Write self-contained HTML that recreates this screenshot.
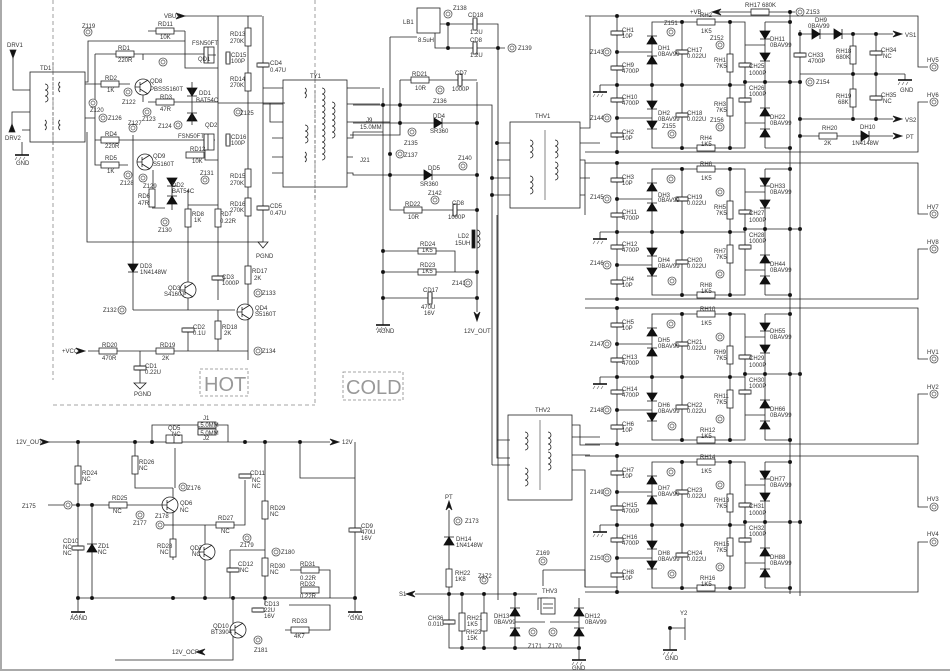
<!DOCTYPE html>
<html><head><meta charset="utf-8"><style>
html,body{margin:0;padding:0;background:#fff;}
svg{display:block;}
text{font-family:"Liberation Sans",sans-serif;font-size:6px;fill:#333;}
.big{font-size:20px;fill:#999;}
</style></head><body>
<svg width="950" height="672" viewBox="0 0 950 672" xmlns="http://www.w3.org/2000/svg">
<defs>
<g id="rh"><rect x="-9" y="-3" width="18" height="6" fill="#fff" stroke="#222" stroke-width="0.8"/></g>
<g id="rv"><rect x="-3" y="-9" width="6" height="18" fill="#fff" stroke="#222" stroke-width="0.8"/></g>
<g id="cv"><rect x="-6" y="-2" width="12" height="4" fill="#fff"/><path d="M-5-2H5M-5 2H5" stroke="#222" stroke-width="1"/></g>
<g id="ch"><rect x="-2" y="-6" width="4" height="12" fill="#fff"/><path d="M-2-5V5M2-5V5" stroke="#222" stroke-width="1"/></g>
<g id="du"><path d="M-5 4H5L0-4Z M-5-4H5" fill="#111" stroke="#111" stroke-width="0.8"/></g>
<g id="dd"><path d="M-5-4H5L0 4Z M-5 4H5" fill="#111" stroke="#111" stroke-width="0.8"/></g>
<g id="dr"><path d="M-4-5V5L4 0Z M4-5V5" fill="#111" stroke="#111" stroke-width="0.8"/></g>
<g id="tp"><circle r="4" fill="#fff" stroke="#555" stroke-width="0.8"/><circle r="2" fill="none" stroke="#555" stroke-width="0.7"/></g>
<circle id="dt" r="1.6" fill="#111"/>
<g id="gnd"><path d="M-7 0H7" stroke="#111" stroke-width="1.6"/><path d="M-5 2L-7 5M-1 2L-3 5M3 2L1 5" stroke="#555" stroke-width="0.6"/></g>
<g id="arr"><path d="M0-3L9 0L0 3L3 0Z" fill="#111"/></g>
<g id="q"><circle r="8" fill="#fff" stroke="#222" stroke-width="0.8"/><path d="M-3-5V5M-8 0H-3M-3-2L5-7M-3 2L5 7" stroke="#222" stroke-width="0.8" fill="none"/></g>
<g id="coil"><path d="M0 0a3 3 0 0 1 0 6a3 3 0 0 1 0 6a3 3 0 0 1 0 6" fill="none" stroke="#222" stroke-width="0.8"/></g>
<g id="coil2"><path d="M0 0a3 3 0 0 1 0 5a3 3 0 0 1 0 5" fill="none" stroke="#222" stroke-width="0.8"/></g>
<g id="blk" stroke="#222" stroke-width="0.8" fill="none">
<path d="M585 16H918V67H928M928 102H918V152H585"/>
<path d="M617 16V152M600 85H745M600 85V92M652 22H745V148H652ZM682 22V148M730 22V148M745 22V148M617 52H652M617 118H652M765 22V148M745 45H765M745 123H765M745 82H800M765 22H790M765 148H790"/>
<use href="#cv" x="617" y="33"/><use href="#cv" x="617" y="68"/><use href="#cv" x="617" y="100"/><use href="#cv" x="617" y="135"/>
<use href="#tp" x="607" y="52"/><use href="#tp" x="607" y="118"/>
<use href="#gnd" x="600" y="92"/>
<use href="#du" x="652" y="40"/><use href="#du" x="652" y="60"/><use href="#dd" x="652" y="105"/><use href="#dd" x="652" y="125"/>
<use href="#cv" x="682" y="52"/><use href="#cv" x="682" y="115"/>
<use href="#rh" x="706" y="22"/><use href="#rh" x="706" y="148"/>
<use href="#rv" x="730" y="63"/><use href="#rv" x="730" y="107"/>
<use href="#cv" x="745" y="65"/><use href="#cv" x="745" y="100"/>
<use href="#dd" x="765" y="35"/><use href="#dd" x="765" y="57"/><use href="#du" x="765" y="112"/><use href="#du" x="765" y="133"/>
<use href="#tp" x="671" y="32"/><use href="#tp" x="720" y="45"/><use href="#tp" x="720" y="127"/><use href="#tp" x="672" y="134"/>
<use href="#dt" x="617" y="16"/><use href="#dt" x="617" y="52"/><use href="#dt" x="617" y="85"/><use href="#dt" x="617" y="118"/><use href="#dt" x="617" y="152"/>
<use href="#dt" x="652" y="85"/><use href="#dt" x="682" y="85"/><use href="#dt" x="730" y="85"/><use href="#dt" x="682" y="22"/><use href="#dt" x="730" y="22"/><use href="#dt" x="730" y="148"/><use href="#dt" x="682" y="148"/><use href="#dt" x="745" y="82"/><use href="#dt" x="765" y="82"/><use href="#dt" x="790" y="82"/><use href="#dt" x="800" y="82"/><use href="#dt" x="790" y="148"/><use href="#dt" x="790" y="22"/>
<use href="#tp" x="934" y="67"/><use href="#tp" x="934" y="102"/>
</g>
</defs>
<rect width="950" height="672" fill="#fff"/>
<path d="M1 0V670H950" stroke="#aaa" stroke-width="2" fill="none"/>

<use href="#blk"/>
<use href="#blk" y="147"/>
<use href="#blk" y="292"/>
<use href="#blk" y="440"/>
<path d="M790 10V594M800 30V596" stroke="#222" stroke-width="0.8"/>
<g>
<text x="622" y="32">CH1</text><text x="622" y="38">10P</text><text x="622" y="67">CH9</text><text x="622" y="73">4700P</text><text x="622" y="99">CH10</text><text x="622" y="105">4700P</text><text x="622" y="134">CH2</text><text x="622" y="140">10P</text>
<text x="590" y="54">Z143</text><text x="590" y="120">Z144</text><text x="658" y="50">DH1</text><text x="658" y="56">0BAV99</text><text x="658" y="115">DH2</text><text x="658" y="121">0BAV99</text>
<text x="687" y="52">CH17</text><text x="687" y="58">0.022U</text><text x="687" y="115">CH18</text><text x="687" y="121">0.022U</text>
<text x="700" y="17">RH2</text><text x="701" y="33">1K5</text><text x="714" y="62">RH1</text><text x="716" y="68">7K5</text><text x="714" y="106">RH3</text><text x="716" y="112">7K5</text><text x="700" y="140">RH4</text><text x="701" y="146">1K5</text>
<text x="749" y="68">CH25</text><text x="749" y="75">1000P</text><text x="749" y="90">CH26</text><text x="749" y="96">1000P</text><text x="770" y="41">DH11</text><text x="770" y="47">0BAV99</text><text x="770" y="119">DH22</text><text x="770" y="125">0BAV99</text>
<text x="664" y="25">Z151</text><text x="710" y="40">Z152</text><text x="710" y="122">Z156</text><text x="662" y="128">Z155</text>
<text x="622" y="179">CH3</text><text x="622" y="185">10P</text><text x="622" y="214">CH11</text><text x="622" y="220">4700P</text><text x="622" y="246">CH12</text><text x="622" y="252">4700P</text><text x="622" y="281">CH4</text><text x="622" y="287">10P</text>
<text x="590" y="199">Z145</text><text x="590" y="265">Z146</text><text x="658" y="197">DH3</text><text x="658" y="202">0BAV99</text><text x="658" y="262">DH4</text><text x="658" y="268">0BAV99</text>
<text x="687" y="199">CH19</text><text x="687" y="205">0.022U</text><text x="687" y="262">CH20</text><text x="687" y="268">0.022U</text>
<text x="700" y="166">RH6</text><text x="701" y="180">1K5</text><text x="714" y="209">RH5</text><text x="716" y="215">7K5</text><text x="714" y="253">RH7</text><text x="716" y="259">7K5</text><text x="700" y="287">RH8</text><text x="701" y="293">1K5</text>
<text x="749" y="215">CH27</text><text x="749" y="222">1000P</text><text x="749" y="237">CH28</text><text x="749" y="243">1000P</text><text x="770" y="188">DH33</text><text x="770" y="194">0BAV99</text><text x="770" y="266">DH44</text><text x="770" y="272">0BAV99</text>
<text x="622" y="324">CH5</text><text x="622" y="330">10P</text><text x="622" y="359">CH13</text><text x="622" y="365">4700P</text><text x="622" y="391">CH14</text><text x="622" y="397">4700P</text><text x="622" y="426">CH6</text><text x="622" y="432">10P</text>
<text x="590" y="346">Z147</text><text x="590" y="412">Z148</text><text x="658" y="342">DH5</text><text x="658" y="348">0BAV99</text><text x="658" y="407">DH6</text><text x="658" y="413">0BAV99</text>
<text x="687" y="344">CH21</text><text x="687" y="350">0.022U</text><text x="687" y="407">CH22</text><text x="687" y="413">0.022U</text>
<text x="700" y="311">RH10</text><text x="701" y="325">1K5</text><text x="714" y="354">RH9</text><text x="716" y="360">7K5</text><text x="714" y="398">RH11</text><text x="716" y="404">7K5</text><text x="700" y="432">RH12</text><text x="701" y="438">1K5</text>
<text x="749" y="360">CH29</text><text x="749" y="367">1000P</text><text x="749" y="382">CH30</text><text x="749" y="388">1000P</text><text x="770" y="333">DH55</text><text x="770" y="339">0BAV99</text><text x="770" y="411">DH66</text><text x="770" y="417">0BAV99</text>
<text x="622" y="472">CH7</text><text x="622" y="478">10P</text><text x="622" y="507">CH15</text><text x="622" y="513">4700P</text><text x="622" y="539">CH16</text><text x="622" y="545">4700P</text><text x="622" y="574">CH8</text><text x="622" y="580">10P</text>
<text x="590" y="494">Z149</text><text x="590" y="560">Z150</text><text x="658" y="490">DH7</text><text x="658" y="496">0BAV99</text><text x="658" y="555">DH8</text><text x="658" y="561">0BAV99</text>
<text x="687" y="492">CH23</text><text x="687" y="498">0.022U</text><text x="687" y="555">CH24</text><text x="687" y="561">0.022U</text>
<text x="700" y="459">RH14</text><text x="701" y="473">1K5</text><text x="714" y="502">RH13</text><text x="716" y="508">7K5</text><text x="714" y="546">RH15</text><text x="716" y="552">7K5</text><text x="700" y="580">RH16</text><text x="701" y="586">1K5</text>
<text x="749" y="508">CH31</text><text x="749" y="515">1000P</text><text x="749" y="530">CH32</text><text x="749" y="536">1000P</text><text x="770" y="481">DH77</text><text x="770" y="487">0BAV99</text><text x="770" y="559">DH88</text><text x="770" y="565">0BAV99</text>
<text x="927" y="62">HV5</text><text x="927" y="97">HV6</text><text x="927" y="209">HV7</text><text x="927" y="244">HV8</text><text x="927" y="354">HV1</text><text x="927" y="389">HV2</text><text x="927" y="501">HV3</text><text x="927" y="536">HV4</text>
</g>
<g stroke="#222" stroke-width="0.8" fill="none">
<path d="M712 12H790M790 12H795M800 34H893M800 74H905M800 119H893M800 136H893M853 34V119M876 34V119M905 74V80"/>
<use href="#arr" x="712" y="12" transform="rotate(180 712 12) translate(-9 0)"/>
<use href="#rh" x="760" y="12"/><use href="#tp" x="800" y="12"/>
<use href="#dr" x="816" y="34"/><use href="#dr" x="838" y="34"/>
<use href="#cv" x="800" y="55"/><use href="#rv" x="853" y="55"/><use href="#rv" x="853" y="98"/><use href="#cv" x="876" y="53"/><use href="#cv" x="876" y="98"/>
<use href="#gnd" x="905" y="80"/><use href="#arr" x="893" y="34"/><use href="#arr" x="893" y="119"/><use href="#arr" x="893" y="136"/>
<use href="#rh" x="828" y="136"/><use href="#dr" x="865" y="136"/><use href="#tp" x="810" y="82"/>
<use href="#dt" x="800" y="34"/><use href="#dt" x="853" y="34"/><use href="#dt" x="876" y="34"/><use href="#dt" x="853" y="74"/><use href="#dt" x="876" y="74"/><use href="#dt" x="800" y="119"/><use href="#dt" x="853" y="119"/><use href="#dt" x="876" y="119"/><use href="#dt" x="800" y="136"/><use href="#dt" x="790" y="12"/>
</g>
<text x="690" y="14">+VB</text><text x="745" y="7">RH17 680K</text><text x="806" y="14">Z153</text><text x="815" y="22">DH9</text><text x="808" y="28">0BAV99</text><text x="808" y="57">CH33</text><text x="808" y="63">4700P</text>
<text x="836" y="53">RH18</text><text x="836" y="59">680K</text><text x="836" y="98">RH19</text><text x="838" y="104">68K</text><text x="881" y="52">CH34</text><text x="883" y="58">NC</text><text x="881" y="97">CH35</text><text x="883" y="103">NC</text>
<text x="905" y="37">VS1</text><text x="905" y="122">VS2</text><text x="906" y="139">PT</text><text x="822" y="130">RH20</text><text x="824" y="145">2K</text><text x="860" y="129">DH10</text><text x="852" y="145">1N4148W</text><text x="900" y="92">GND</text><text x="816" y="84">Z154</text>

<path d="M53 0V380M315 0V405M53 405H315" stroke="#888" stroke-width="0.8" stroke-dasharray="4 3" fill="none"/>
<rect x="200" y="369" width="48" height="27" fill="none" stroke="#888" stroke-width="0.8" stroke-dasharray="3 2"/>
<text x="204" y="391" class="big">HOT</text>
<rect x="343" y="372" width="60" height="28" fill="none" stroke="#888" stroke-width="0.8" stroke-dasharray="3 2"/>
<text x="346" y="394" class="big">COLD</text>

<g stroke="#222" stroke-width="0.8" fill="none">
<rect x="30" y="72" width="55" height="70"/>
<path d="M53 62V150" stroke-dasharray="3 2" stroke="#666"/>
<use href="#coil" x="45" y="84"/><use href="#coil2" x="45" y="120"/>
<use href="#coil2" x="60" y="82" transform="translate(120 0) scale(-1 1)"/><use href="#coil2" x="60" y="120" transform="translate(120 0) scale(-1 1)"/>
<path d="M13 58V90H30M12 132V112H30M22 142V155M30 130H22M85 82H88V41H185V31M148 31H185M88 41V82M85 84H130M85 118H95M95 54V165H128M95 140H215M95 54H210M87 132V242H263M148 102H218M143 95V102M143 60V54M185 41V68H218"/>
<path d="M10 50H16L13 58Z M9 132H15L12 124Z" fill="#111"/>
<use href="#gnd" x="22" y="155"/>
<use href="#tp" x="88" y="32"/><use href="#rh" x="165" y="31"/><use href="#rh" x="125" y="54"/><use href="#rh" x="110" y="84"/><use href="#rh" x="165" y="102"/><use href="#rh" x="110" y="140"/><use href="#rh" x="110" y="165"/><use href="#rh" x="195" y="155"/>
<use href="#q" x="143" y="87"/><use href="#q" x="145" y="162"/>
<path d="M185 16H262M218 16V300M248 16V360M263 16V242M218 103H285M208 55V62M210 142V150M153 170V198M152 208H165M172 180V210M188 190V240M188 205H218M133 135V310M133 310H235M188 240V310M248 280V300M218 260V290M188 330V351M218 310V351M88 351H248M140 351V383M205 148V160H218"/>
<use href="#arr" x="176" y="16"/>
<rect x="204" y="47" width="10" height="16" fill="#fff"/><path d="M204 47V63M208 47V63M208 55H216" />
<rect x="204" y="134" width="10" height="16" fill="#fff"/><path d="M204 134V150M208 134V150" />
<use href="#ch" x="228" y="58"/><use href="#ch" x="228" y="140"/>
<use href="#rv" x="248" y="37"/><use href="#rv" x="248" y="82"/><use href="#rv" x="248" y="178"/><use href="#rv" x="248" y="207"/><use href="#rv" x="248" y="275"/>
<use href="#cv" x="263" y="65"/><use href="#cv" x="263" y="208"/>
<use href="#dd" x="192" y="92"/><use href="#du" x="192" y="117"/><path d="M192 82V125"/>
<use href="#dd" x="172" y="182"/><use href="#du" x="172" y="200"/>
<use href="#rv" x="152" y="198"/><use href="#rv" x="188" y="218"/><use href="#rv" x="218" y="218"/>
<use href="#dd" x="133" y="268"/><use href="#cv" x="218" y="278"/>
<use href="#q" x="188" y="290"/><use href="#q" x="245" y="312"/>
<use href="#cv" x="188" y="330"/><use href="#rv" x="218" y="330"/>
<use href="#arr" x="76" y="351"/><use href="#rh" x="108" y="351"/><use href="#rh" x="165" y="351"/><use href="#cv" x="140" y="368"/>
<path d="M134 383H146L140 389Z M258 242H268L263 248Z"/>
<use href="#tp" x="163" y="62"/><use href="#tp" x="128" y="92"/><use href="#tp" x="93" y="103"/><use href="#tp" x="103" y="118"/><use href="#tp" x="147" y="112"/><use href="#tp" x="133" y="128"/><use href="#tp" x="178" y="125"/><use href="#tp" x="238" y="112"/><use href="#tp" x="128" y="175"/><use href="#tp" x="143" y="178"/><use href="#tp" x="205" y="180"/><use href="#tp" x="165" y="222"/><use href="#tp" x="258" y="293"/><use href="#tp" x="122" y="310"/><use href="#tp" x="258" y="351"/>
<rect x="283" y="80" width="64" height="107"/>
<path d="M315 70V200" stroke-dasharray="3 2" stroke="#666"/>
<path d="M263 88H283M263 104H283M270 103V122H283M272 138H283M272 157H283M272 173H283M347 88H380M347 104H380M347 122H390M347 138H353V132H383M347 157H353M347 173H353V175H378"/>
<use href="#coil2" x="305" y="88"/><use href="#coil" x="305" y="125"/><use href="#coil2" x="305" y="152"/>
<use href="#coil" x="322" y="88"/><use href="#coil" x="322" y="106"/><use href="#coil" x="322" y="124"/><use href="#coil" x="322" y="142"/><use href="#coil" x="332" y="102"/><use href="#coil" x="332" y="120"/>
</g>
<g>
<text x="7" y="47">DRV1</text><text x="5" y="140">DRV2</text><text x="16" y="165">GND</text><text x="40" y="70">TD1</text>
<text x="82" y="28">Z119</text><text x="158" y="26">RD11</text><text x="160" y="39">10K</text><text x="164" y="18">VBUS</text><text x="118" y="50">RD1</text><text x="118" y="62">220R</text>
<text x="192" y="45">FSN50FT</text><text x="198" y="61">QD1</text><text x="231" y="57">CD15</text><text x="231" y="63">100P</text><text x="230" y="36">RD13</text><text x="230" y="43">270K</text><text x="230" y="81">RD14</text><text x="230" y="87">270K</text><text x="270" y="65">CD4</text><text x="270" y="72">0.47U</text>
<text x="105" y="80">RD2</text><text x="107" y="92">1K</text><text x="150" y="83">QD8</text><text x="150" y="91">PBSS5160T</text><text x="160" y="99">RD3</text><text x="160" y="111">47R</text><text x="199" y="95">DD1</text><text x="196" y="102">BAT54C</text>
<text x="122" y="104">Z122</text><text x="90" y="112">Z120</text><text x="108" y="120">Z126</text><text x="142" y="121">Z123</text><text x="158" y="128">Z124</text><text x="128" y="125">Z127</text><text x="240" y="115">Z125</text>
<text x="105" y="136">RD4</text><text x="105" y="148">220R</text><text x="178" y="138">FSN50FT</text><text x="205" y="127">QD2</text><text x="231" y="139">CD16</text><text x="231" y="145">100P</text><text x="190" y="151">RD12</text><text x="192" y="163">10K</text>
<text x="105" y="160">RD5</text><text x="107" y="173">1K</text><text x="153" y="158">QD9</text><text x="153" y="166">S5160T</text><text x="120" y="185">Z128</text><text x="143" y="188">Z129</text><text x="200" y="175">Z131</text><text x="172" y="187">DD2</text><text x="172" y="193">BAT54C</text>
<text x="230" y="178">RD15</text><text x="230" y="185">270K</text><text x="230" y="206">RD16</text><text x="230" y="212">270K</text><text x="270" y="208">CD5</text><text x="270" y="215">0.47U</text>
<text x="138" y="198">RD6</text><text x="138" y="205">47R</text><text x="192" y="216">RD8</text><text x="194" y="222">1K</text><text x="220" y="216">RD7</text><text x="220" y="223">0.22R</text><text x="158" y="232">Z130</text><text x="256" y="258">PGND</text>
<text x="140" y="268">DD3</text><text x="140" y="274">1N4148W</text><text x="222" y="279">CD3</text><text x="222" y="285">1000P</text><text x="252" y="273">RD17</text><text x="254" y="280">2K</text>
<text x="168" y="290">QD3</text><text x="164" y="296">S4160T</text><text x="262" y="295">Z133</text><text x="255" y="310">QD4</text><text x="255" y="316">S5160T</text><text x="103" y="312">Z132</text>
<text x="193" y="329">CD2</text><text x="193" y="335">0.1U</text><text x="222" y="329">RD18</text><text x="224" y="335">2K</text>
<text x="62" y="353">+VCC</text><text x="102" y="347">RD20</text><text x="102" y="360">470R</text><text x="160" y="347">RD19</text><text x="162" y="360">2K</text><text x="145" y="368">CD1</text><text x="145" y="374">0.22U</text><text x="134" y="396">PGND</text><text x="262" y="353">Z134</text>
<text x="310" y="78">TY1</text>
</g>

<g stroke="#222" stroke-width="0.8" fill="none">
<rect x="417" y="8" width="23" height="25"/>
<path d="M390 37H417M440 24H498V600M448 24V48M435 33V48H505M390 37V210H413M383 88V325M477 82V312M400 80V135H350M400 80H477M353 105H492V465M353 123H477M383 135H350M378 175H477M390 210H477M383 251H455V272M383 272H477M383 298H477M497 143H510M497 160H510M492 178H510M492 195H510M580 128H590V16M580 143H600M580 160H585V215M580 178H590M580 195H585"/>
<use href="#tp" x="448" y="14"/><use href="#ch" x="475" y="24"/><use href="#ch" x="475" y="48"/><use href="#tp" x="512" y="48"/>
<use href="#rh" x="420" y="80"/><use href="#ch" x="460" y="80"/><use href="#tp" x="440" y="90"/>
<use href="#dr" x="438" y="123"/><use href="#tp" x="412" y="132"/><use href="#tp" x="400" y="154"/>
<use href="#dr" x="428" y="175"/><use href="#tp" x="463" y="166"/><use href="#tp" x="435" y="200"/>
<use href="#rh" x="413" y="210"/><use href="#ch" x="455" y="210"/>
<rect x="472" y="230" width="3" height="18" fill="#111"/><use href="#coil" x="477" y="230"/>
<use href="#rh" x="427" y="251"/><use href="#rh" x="427" y="272"/><use href="#tp" x="468" y="283"/><use href="#ch" x="430" y="298"/>
<use href="#gnd" x="383" y="325"/>
<use href="#arr" x="477" y="312" transform="rotate(90 477 312)"/>
<rect x="510" y="122" width="70" height="86"/>
<path d="M545 130V200" stroke="#666"/>
<use href="#coil" x="530" y="140"/><use href="#coil" x="530" y="176"/><use href="#coil" x="555" y="140"/><use href="#coil" x="555" y="162"/>
<path d="M497 215V458H510M492 465H510M497 440H510"/>
<rect x="508" y="415" width="64" height="85"/>
<path d="M540 420V490" stroke="#666"/>
<use href="#coil" x="525" y="432"/><use href="#coil" x="525" y="468"/><use href="#coil" x="548" y="432"/><use href="#coil" x="548" y="452"/>
<path d="M572 425H580V445H600M572 437H600M572 455H590M572 470H585V587H617"/>
<use href="#dt" x="448" y="24"/><use href="#dt" x="448" y="48"/><use href="#dt" x="498" y="48"/><use href="#dt" x="383" y="105"/><use href="#dt" x="400" y="105"/><use href="#dt" x="400" y="123"/><use href="#dt" x="477" y="123"/><use href="#dt" x="390" y="154"/><use href="#dt" x="390" y="175"/><use href="#dt" x="477" y="175"/><use href="#dt" x="477" y="210"/><use href="#dt" x="383" y="251"/><use href="#dt" x="383" y="272"/><use href="#dt" x="477" y="272"/><use href="#dt" x="383" y="298"/><use href="#dt" x="477" y="298"/><use href="#dt" x="497" y="143"/><use href="#dt" x="492" y="178"/><use href="#dt" x="492" y="195"/>
</g>
<g>
<text x="403" y="24">LB1</text><text x="418" y="42">8.5uH</text><text x="453" y="10">Z138</text><text x="468" y="17">CD18</text><text x="470" y="34">1.2U</text><text x="470" y="42">CD8</text><text x="470" y="57">1.2U</text><text x="518" y="50">Z139</text>
<text x="412" y="76">RD21</text><text x="415" y="90">10R</text><text x="455" y="75">CD7</text><text x="452" y="91">1000P</text><text x="433" y="103">Z136</text>
<text x="366" y="122">J9</text><text x="360" y="129">15.0MM</text><text x="433" y="118">DD4</text><text x="430" y="133">SR360</text><text x="404" y="145">Z135</text><text x="404" y="157">Z137</text>
<text x="428" y="170">DD5</text><text x="420" y="186">SR360</text><text x="458" y="160">Z140</text><text x="428" y="195">Z142</text>
<text x="405" y="206">RD22</text><text x="408" y="219">10R</text><text x="452" y="205">CD8</text><text x="448" y="219">1000P</text>
<text x="458" y="238">LD2</text><text x="455" y="245">15UH</text><text x="420" y="246">RD24</text><text x="422" y="252">1K5</text><text x="420" y="267">RD23</text><text x="422" y="273">1K5</text><text x="452" y="285">Z141</text>
<text x="423" y="292">CD17</text><text x="421" y="309">470U</text><text x="424" y="315">16V</text><text x="377" y="333">AGND</text><text x="464" y="333">12V_OUT</text>
<text x="535" y="118">THV1</text><text x="535" y="412">THV2</text><text x="360" y="162">J21</text>
</g>

<g stroke="#222" stroke-width="0.8" fill="none">
<path d="M48 442H330M78 442V598M135 442V488H173M152 442V425H228V442M175 448V488M173 488V560M160 505H173M48 505H160M92 505V598M78 598H355M160 525H205M205 525V598M205 525H245V480M265 442V598M230 550H265M230 550V598M265 598V605M289 605H330V630H285M330 598V570H290M355 442V598M300 442V478H355M233 598V660H115"/>
<use href="#arr" x="40" y="442"/><use href="#arr" x="330" y="442"/>
<use href="#rh" x="207" y="425"/><use href="#rh" x="207" y="432"/>
<rect x="166" y="435" width="16" height="8" fill="#fff"/><path d="M166 443H182M174 436V443"/>
<use href="#rv" x="135" y="465"/><use href="#rv" x="78" y="475"/><use href="#rh" x="118" y="505"/><use href="#tp" x="68" y="505"/>
<use href="#cv" x="78" y="548"/><use href="#du" x="92" y="548"/>
<use href="#q" x="170" y="505"/><use href="#tp" x="183" y="487"/><use href="#tp" x="140" y="515"/><use href="#tp" x="160" y="525"/>
<use href="#rv" x="173" y="548"/><use href="#rh" x="225" y="525"/><use href="#q" x="207" y="552"/>
<use href="#cv" x="245" y="476"/><use href="#cv" x="233" y="570"/><use href="#tp" x="247" y="538"/><use href="#tp" x="276" y="552"/>
<use href="#rv" x="265" y="510"/><use href="#rv" x="265" y="567"/><use href="#rh" x="310" y="570"/><use href="#rh" x="310" y="590"/>
<use href="#cv" x="355" y="530"/><use href="#gnd" x="78" y="612"/><use href="#gnd" x="355" y="612"/>
<use href="#q" x="238" y="630"/><use href="#cv" x="258" y="610"/><use href="#tp" x="258" y="640"/><use href="#rh" x="300" y="630"/>
<path d="M78 598V612M355 598V612"/>
<use href="#arr" x="205" y="652" transform="rotate(180 205 652)"/>
<use href="#dt" x="78" y="442"/><use href="#dt" x="135" y="442"/><use href="#dt" x="152" y="442"/><use href="#dt" x="245" y="442"/><use href="#dt" x="265" y="442"/><use href="#dt" x="300" y="442"/><use href="#dt" x="78" y="505"/><use href="#dt" x="92" y="505"/><use href="#dt" x="78" y="598"/><use href="#dt" x="92" y="598"/><use href="#dt" x="173" y="598"/><use href="#dt" x="205" y="598"/><use href="#dt" x="233" y="598"/><use href="#dt" x="265" y="598"/><use href="#dt" x="355" y="598"/>
</g>
<g>
<text x="16" y="444">12V_OUT</text><text x="342" y="444">12V</text><text x="203" y="420">J1</text><text x="197" y="427">L5.0MM</text><text x="197" y="435">L5.0MM</text><text x="203" y="440">J2</text><text x="168" y="430">QD5</text><text x="172" y="436">NC</text>
<text x="139" y="464">RD26</text><text x="139" y="470">NC</text><text x="82" y="475">RD24</text><text x="82" y="481">NC</text><text x="112" y="500">RD25</text><text x="113" y="513">NC</text><text x="22" y="508">Z175</text><text x="187" y="490">Z176</text>
<text x="180" y="505">QD6</text><text x="180" y="512">NC</text><text x="133" y="525">Z177</text><text x="155" y="518">Z178</text><text x="218" y="520">RD27</text><text x="221" y="533">NC</text><text x="250" y="475">CD11</text><text x="252" y="482">NC</text><text x="252" y="488">NC</text>
<text x="63" y="543">CD10</text><text x="63" y="549">NC</text><text x="63" y="555">NC</text><text x="98" y="548">ZD1</text><text x="98" y="554">NC</text><text x="157" y="548">RD28</text><text x="160" y="554">NC</text><text x="190" y="550">QD7</text><text x="192" y="556">NC</text>
<text x="270" y="510">RD29</text><text x="270" y="516">NC</text><text x="240" y="547">Z179</text><text x="281" y="554">Z180</text><text x="238" y="566">CD12</text><text x="240" y="572">NC</text><text x="270" y="568">RD30</text><text x="270" y="574">NC</text>
<text x="300" y="566">RD31</text><text x="300" y="580">0.22R</text><text x="300" y="586">RD32</text><text x="300" y="598">0.22R</text><text x="361" y="528">CD9</text><text x="361" y="534">470U</text><text x="361" y="540">16V</text>
<text x="70" y="620">AGND</text><text x="350" y="620">GND</text><text x="264" y="606">CD13</text><text x="264" y="612">22U</text><text x="264" y="618">16V</text><text x="213" y="628">QD10</text><text x="211" y="634">BT3904</text><text x="254" y="652">Z181</text><text x="292" y="623">RD33</text><text x="294" y="638">4K7</text><text x="172" y="654">12V_OCP</text>
</g>

<g stroke="#222" stroke-width="0.8" fill="none">
<path d="M449 510V648H580M415 594H537M462 594V648M484 594V648M515 594V648M515 622H545M543 570V586M543 570H585V587M579 598V660M579 622H550M548 598H538V610"/>
<use href="#arr" x="449" y="510" transform="rotate(-90 449 510)"/>
<use href="#arr" x="415" y="594" transform="rotate(180 415 594)"/>
<use href="#tp" x="458" y="521"/><use href="#du" x="449" y="541"/><use href="#rv" x="449" y="578"/>
<use href="#cv" x="449" y="622"/><use href="#rv" x="462" y="622"/><use href="#rv" x="484" y="622"/><use href="#tp" x="484" y="580"/>
<use href="#du" x="515" y="612"/><use href="#du" x="515" y="632"/><use href="#tp" x="533" y="632"/><use href="#tp" x="553" y="632"/><use href="#tp" x="543" y="561"/>
<rect x="541" y="598" width="14" height="16" fill="#fff"/><path d="M543 604H553M543 608H553"/>
<use href="#du" x="579" y="612"/><use href="#du" x="579" y="632"/><use href="#gnd" x="579" y="660"/>
<path d="M685 618V640M670 628H685M670 628V650"/><use href="#gnd" x="670" y="650"/>
<use href="#dt" x="449" y="594"/><use href="#dt" x="462" y="594"/><use href="#dt" x="484" y="594"/><use href="#dt" x="515" y="594"/><use href="#dt" x="462" y="648"/><use href="#dt" x="484" y="648"/><use href="#dt" x="515" y="648"/><use href="#dt" x="579" y="648"/><use href="#dt" x="670" y="628"/>
</g>
<g>
<text x="445" y="499">PT</text><text x="465" y="523">Z173</text><text x="456" y="541">DH14</text><text x="456" y="547">1N4148W</text><text x="455" y="575">RH22</text><text x="455" y="581">1K8</text><text x="399" y="596">S1</text>
<text x="428" y="620">CH36</text><text x="428" y="626">0.01U</text><text x="467" y="620">RH21</text><text x="467" y="626">1K5</text><text x="466" y="634">RH23</text><text x="467" y="640">15K</text><text x="478" y="578">Z172</text>
<text x="494" y="618">DH13</text><text x="494" y="624">0BAV99</text><text x="528" y="648">Z171</text><text x="548" y="648">Z170</text><text x="536" y="555">Z169</text><text x="542" y="593">THV3</text><text x="585" y="618">DH12</text><text x="585" y="624">0BAV99</text><text x="572" y="670">GND</text><text x="680" y="615">Y2</text><text x="665" y="660">GND</text>
</g>
</svg>
</body></html>
